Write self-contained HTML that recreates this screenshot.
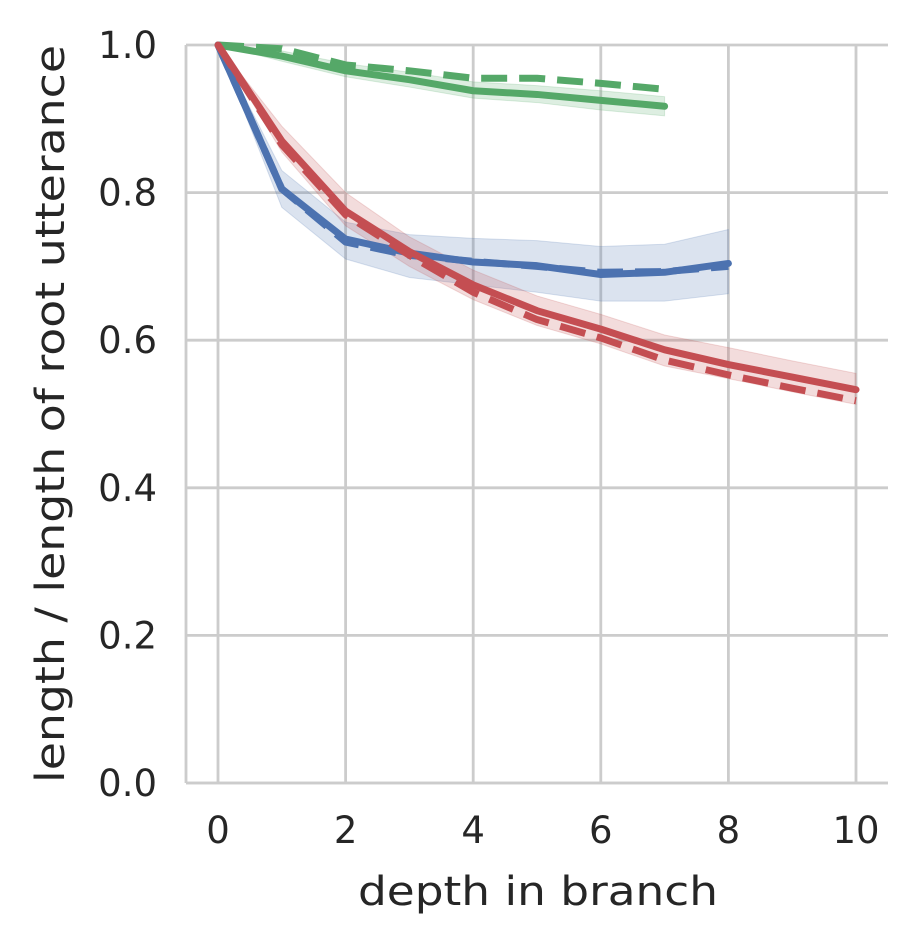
<!DOCTYPE html>
<html><head><meta charset="utf-8">
<style>
html,body{margin:0;padding:0;background:#fff;}
svg text{font-family:"DejaVu Sans","Liberation Sans",sans-serif;fill:#262626;}
</style></head>
<body>
<svg id="chart" width="917" height="945">
<g id="grid"></g>
<g id="bands"></g>
<g id="lines"></g>
<g id="axes"></g>
<text x="538" y="905" font-size="40" text-anchor="middle" textLength="360" lengthAdjust="spacingAndGlyphs">depth in branch</text>
<text transform="translate(64,414) rotate(-90)" font-size="40" text-anchor="middle" textLength="738" lengthAdjust="spacingAndGlyphs">length / length of root utterance</text>
</svg>
<script>
const xTicks=[0,2,4,6,8,10];
const yTicks=[0.0,0.2,0.4,0.6,0.8,1.0];
const yTickLabels=["0.0","0.2","0.4","0.6","0.8","1.0"];
const greenSolid=[1.0,0.985,0.965,0.953,0.938,0.933,0.925,0.917];
const greenDashed=[1.0,0.995,0.973,0.965,0.955,0.955,0.948,0.94];
const greenLow=[1.0,0.978,0.957,0.943,0.928,0.922,0.912,0.904];
const greenHigh=[1.0,0.992,0.975,0.963,0.95,0.945,0.938,0.93];
const blueSolid=[1.0,0.805,0.737,0.718,0.706,0.701,0.689,0.692,0.704];
const blueDashed=[1.0,0.805,0.733,0.715,0.707,0.700,0.692,0.693,0.700];
const blueLow=[1.0,0.78,0.71,0.685,0.675,0.665,0.653,0.653,0.663];
const blueHigh=[1.0,0.83,0.76,0.743,0.738,0.735,0.727,0.73,0.75];
const redSolid=[1.0,0.87,0.775,0.72,0.675,0.64,0.615,0.587,0.567,0.55,0.533];
const redDashed=[1.0,0.865,0.77,0.715,0.665,0.628,0.603,0.573,0.553,0.535,0.518];
const redLow=[1.0,0.855,0.755,0.7,0.655,0.62,0.595,0.565,0.548,0.53,0.513];
const redHigh=[1.0,0.89,0.8,0.74,0.695,0.66,0.635,0.607,0.59,0.572,0.555];

const L=186,R=888,T=45,B=783;
const X=v=>218+v*63.8;
const Y=v=>B-v*(B-T);
const NS="http://www.w3.org/2000/svg";
function mk(tag,parent,attrs){const e=document.createElementNS(NS,tag);for(const k in attrs)e.setAttribute(k,attrs[k]);parent.appendChild(e);return e;}
const grid=document.getElementById('grid'),axes=document.getElementById('axes'),bands=document.getElementById('bands'),lines=document.getElementById('lines');
xTicks.forEach(t=>{
  const g=mk('line',grid,{x1:X(t),x2:X(t),y1:T,y2:B,stroke:'#cccccc','stroke-width':2.8});
  
  
  const tx=mk('text',axes,{x:X(t),y:B+60,'font-size':37,'text-anchor':'middle'});
  tx.textContent=t;
  
  
});
yTicks.forEach((t,i)=>{
  const g=mk('line',grid,{x1:L,x2:R,y1:Y(t),y2:Y(t),stroke:'#cccccc','stroke-width':2.8});
  
  
  const tx=mk('text',axes,{x:L-29,y:Y(t)+13,'font-size':37,'text-anchor':'end'});
  tx.textContent=yTickLabels[i];
  
  
});
const al=mk('line',axes,{x1:L,x2:L,y1:T,y2:B,stroke:'#cccccc','stroke-width':2.8});


const ab=mk('line',axes,{x1:L,x2:R,y1:B,y2:B,stroke:'#cccccc','stroke-width':2.8});


function pts(a){return a.map((v,i)=>X(i)+','+Y(v)).join(' ');}
function band(lo,hi,color,name){
  const p=lo.map((v,i)=>X(i)+','+Y(v)).concat(hi.map((v,i)=>X(i)+','+Y(v)).reverse()).join(' ');
  const e=mk('polygon',bands,{points:p,fill:color,'fill-opacity':0.2,stroke:color,'stroke-opacity':0.2});
  
  
}
function line(a,color,dash,name){
  const e=mk('polyline',lines,{points:pts(a),fill:'none',stroke:color,'stroke-width':7,'stroke-linecap':'round','stroke-linejoin':'round'});
  if(dash){e.setAttribute('stroke-dasharray','26 12');e.setAttribute('stroke-linecap','butt');}
  
  
}
band(greenLow,greenHigh,'#55a868','green-band');
band(blueLow,blueHigh,'#4c72b0','blue-band');
band(redLow,redHigh,'#c44e52','red-band');
line(greenDashed,'#55a868',true,'green-dashed-line');
line(greenSolid,'#55a868',false,'green-solid-line');
line(blueDashed,'#4c72b0',true,'blue-dashed-line');
line(blueSolid,'#4c72b0',false,'blue-solid-line');
line(redDashed,'#c44e52',true,'red-dashed-line');
line(redSolid,'#c44e52',false,'red-solid-line');
</script>
</body></html>
